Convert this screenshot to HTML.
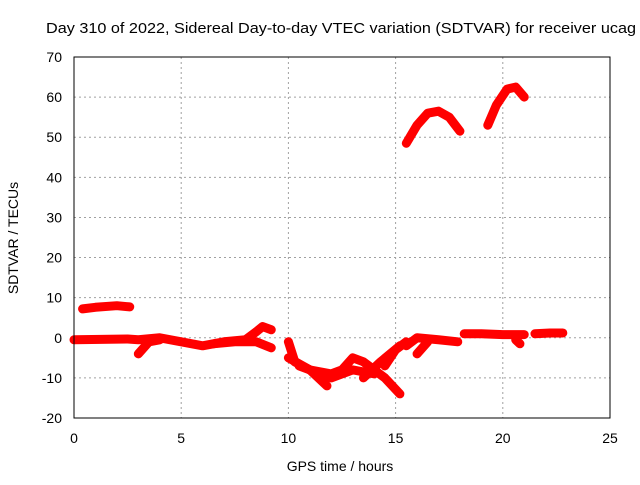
<!DOCTYPE html>
<html><head><meta charset="utf-8"><style>
body{margin:0;background:#fff}
svg text{font-family:"Liberation Sans",sans-serif;font-size:14px;fill:#000}
</style></head><body>
<svg id="c" width="640" height="480">
<text x="46" y="33" textLength="590" lengthAdjust="spacingAndGlyphs" style="font-size:15px">Day 310 of 2022, Sidereal Day-to-day VTEC variation (SDTVAR) for receiver ucag</text>
<g id="grid"></g><g id="ticks"></g><g id="series"></g>
<rect x="74" y="57" width="536" height="361" fill="none" stroke="#000" stroke-width="1"/>
<text x="340" y="471" text-anchor="middle">GPS time / hours</text>
<text transform="translate(18,238) rotate(-90)" text-anchor="middle">SDTVAR / TECUs</text>
</svg>
<script>
const xTicks=[0,5,10,15,20,25];
const yTicks=[-20,-10,0,10,20,30,40,50,60,70];
const tracks=[
 [[0.4,7.2],[1,7.6],[2,8],[2.6,7.7]],
 [[0,-0.5],[2.5,-0.3],[3,-0.5],[4,0],[5,-1],[6,-2],[7,-1],[8,-0.5],[8.5,1.5],[8.8,2.8],[9.2,2]],
 [[3,-4],[3.5,-1],[4,-0.5]],
 [[6.5,-1.5],[7.5,-1],[8.5,-1],[9.2,-2.5]],
 [[10,-1],[10.3,-6],[11,-8],[12,-9],[12.5,-8],[13,-5],[13.5,-6],[14,-8],[14.5,-10],[15.2,-14]],
 [[10,-5],[11,-8],[11.8,-12]],
 [[10.5,-7],[12,-10],[13,-8],[14,-9]],
 [[13.5,-10],[14.3,-6],[15.2,-2]],
 [[14.5,-7],[15,-3],[15.5,-1]],
 [[15.5,-2],[16,0],[17,-0.5],[17.9,-1]],
 [[16,-4],[16.5,-1]],
 [[18.2,1],[19,1],[20,0.8],[21,0.8]],
 [[20.6,-0.5],[20.8,-1.5]],
 [[21.5,1],[22.2,1.2],[22.8,1.2]],
 [[15.5,48.5],[16,53],[16.5,56],[17,56.5],[17.5,55],[18,51.5]],
 [[19.3,53],[19.7,58],[20.2,62],[20.6,62.5],[21,60]]
];
const X=t=>74+t*536/25, Y=v=>418-(v+20)*361/90;
const NS="http://www.w3.org/2000/svg";
const g=document.getElementById('grid'),tk=document.getElementById('ticks'),se=document.getElementById('series');
function mk(tag,at,par){const e=document.createElementNS(NS,tag);for(const k in at)e.setAttribute(k,at[k]);par.appendChild(e);return e;}
xTicks.forEach(t=>{
 if(t>0&&t<25){const l=mk('line',{x1:X(t),x2:X(t),y1:57,y2:418,stroke:'#a0a0a0','stroke-dasharray':'2,3'},g);
 
 }
 const s=mk('text',{x:X(t),y:443,'text-anchor':'middle'},tk);s.textContent=t;
 
 
});
yTicks.forEach(v=>{
 if(v>-20&&v<70){const l=mk('line',{x1:74,x2:610,y1:Y(v),y2:Y(v),stroke:'#a0a0a0','stroke-dasharray':'2,3'},g);
 
 }
 const s=mk('text',{x:62,y:Y(v)+5,'text-anchor':'end'},tk);s.textContent=v;
 
 
});
tracks.forEach(tr=>{
 const p=mk('polyline',{points:tr.map(d=>X(d[0])+','+Y(d[1])).join(' '),fill:'none',stroke:'#f00','stroke-width':9,'stroke-linejoin':'round','stroke-linecap':'round'},se);
 
 
});
</script>
</body></html>
